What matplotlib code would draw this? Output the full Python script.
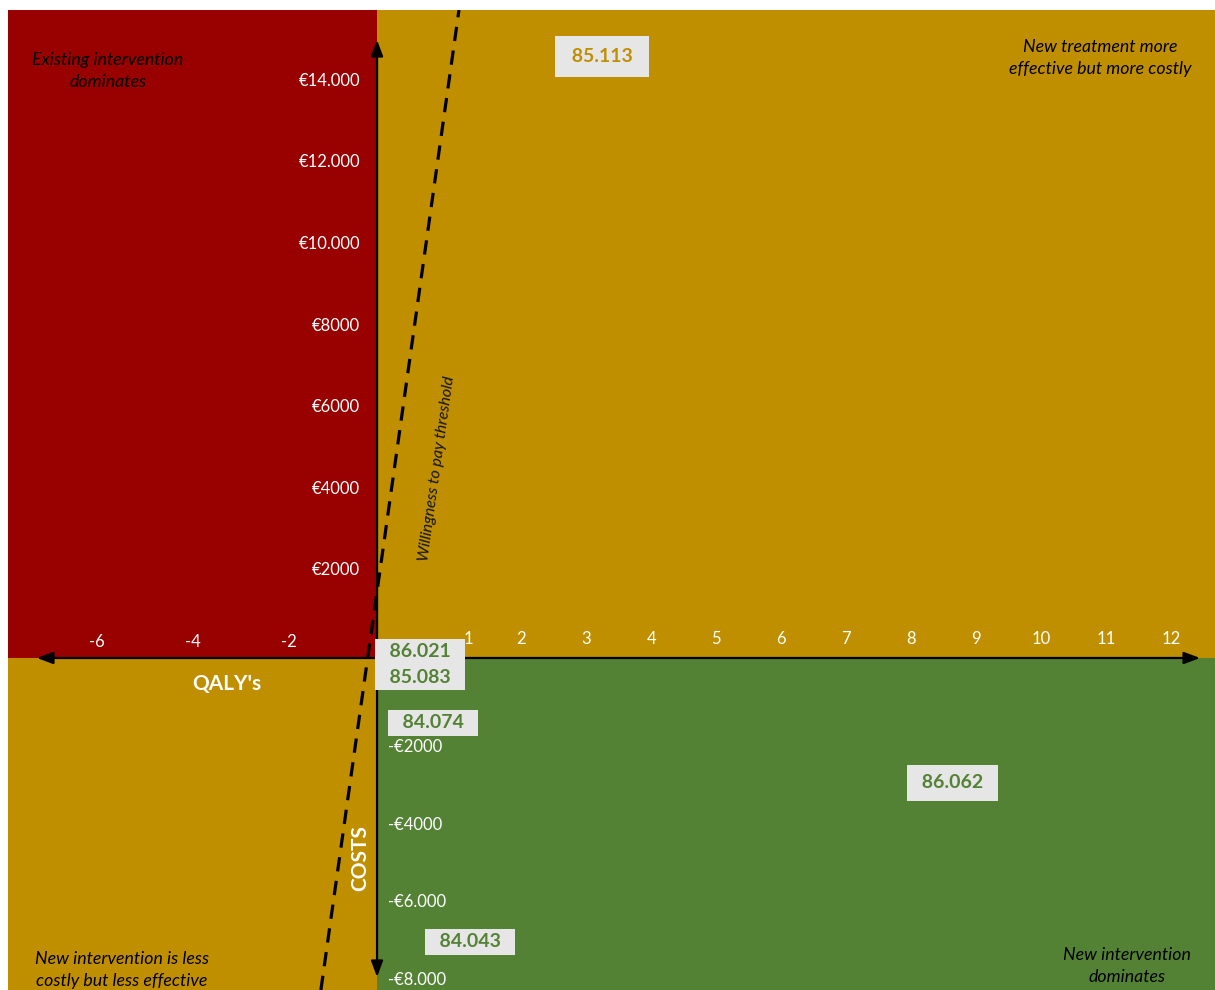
import numpy as np
import matplotlib
matplotlib.use("Agg")
import matplotlib.pyplot as plt
from matplotlib.patches import Rectangle
from matplotlib import transforms

plt.rcParams['font.family'] = ['Lato', 'DejaVu Sans']

# data
point_labels = ['85.113', '86.021', '85.083', '84.074', '86.062', '84.043']
point_qaly = [3.46, 0.66, 0.66, 0.86, 8.85, 1.43]
point_cost = [14750, 150, -490, -1670, -3210, -7300]

xtick_neg = [-6, -4, -2]
xtick_pos = [1, 2, 3, 4, 5, 6, 7, 8, 9, 10, 11, 12]
ytick_pos = [14000, 12000, 10000, 8000, 6000, 4000, 2000]
ytick_pos_lab = ['€14.000', '€12.000', '€10.000', '€8000', '€6000', '€4000', '€2000']
ytick_neg = [-2000, -4000, -6000, -8000]
ytick_neg_lab = ['-€2000', '-€4000', '-€6.000', '-€8.000']

# willingness to pay threshold line
wtp_qaly = [-1.17, 1.26]
wtp_cost = [-8535, 15880]

RED = '#990000'
GOLD = '#BF8F00'
GREEN = '#548235'
BOX = '#E7E6E6'

# the negative halves of both axes are drawn more compressed
NEGX = 48 / 65
NEGY = 38.9 / 40.8


def piecewise(k):
    def fwd(v):
        v = np.asarray(v, dtype=float)
        return np.where(v < 0, v * k, v)

    def inv(v):
        v = np.asarray(v, dtype=float)
        return np.where(v < 0, v / k, v)
    return fwd, inv


fig = plt.figure(figsize=(12.15, 9.9), dpi=100, facecolor='white')
ax = fig.add_axes([8 / 1215, 0, 1207 / 1215, 980 / 990])
ax.set_xscale('function', functions=piecewise(NEGX))
ax.set_yscale('function', functions=piecewise(NEGY))
xmin, xmax = -7.6875, 12.89
ymin, ymax = -8535, 15882
ax.set_xlim(xmin, xmax)
ax.set_ylim(ymin, ymax)
ax.axis('off')

# quadrants
ax.add_patch(Rectangle((xmin, 0), -xmin, ymax, fc=RED, ec='none', zorder=0))
ax.add_patch(Rectangle((0, 0), xmax, ymax, fc=GOLD, ec='none', zorder=0))
ax.add_patch(Rectangle((xmin, ymin), -xmin, -ymin, fc=GOLD, ec='none', zorder=0))
ax.add_patch(Rectangle((0, ymin), xmax, -ymin, fc=GREEN, ec='none', zorder=0))

# axes arrows
arr = dict(arrowstyle='<|-|>,head_length=0.8,head_width=0.3', color='black',
           lw=1.6, mutation_scale=12, shrinkA=0, shrinkB=0)
ax.annotate('', xy=(0.024, 0), xytext=(0.9876, 0),
            xycoords=('axes fraction', 'data'), arrowprops=arr, zorder=3)
ax.annotate('', xy=(0, 0.9694), xytext=(0, 0.0133),
            xycoords=('data', 'axes fraction'), arrowprops=arr, zorder=3)

# threshold
ax.plot(wtp_qaly, wtp_cost, color='black', lw=2.3, dashes=(4.5, 3), zorder=2)
p1 = ax.transData.transform((wtp_qaly[0], wtp_cost[0]))
p2 = ax.transData.transform((wtp_qaly[1], wtp_cost[1]))
ang = np.degrees(np.arctan2(p2[1] - p1[1], p2[0] - p1[0]))
ax.text(0.92, 4650, 'Willingness to pay threshold', rotation=ang,
        rotation_mode='anchor', ha='center', va='center', fontsize=11.5,
        style='italic', color='#141414', zorder=3)

# tick labels
tick_kw = dict(color='white', fontsize=12, zorder=4)
nudge = {1: 12}
up = transforms.offset_copy(ax.transData, fig=fig, x=8, y=16, units='dots')
for v in xtick_neg:
    ax.text(v, 0, str(v), transform=up, ha='center', va='center', **tick_kw)
for v in xtick_pos:
    tr = transforms.offset_copy(ax.transData, fig=fig, x=14 + nudge.get(v, 0),
                                y=19, units='dots')
    ax.text(v, 0, str(v), transform=tr, ha='center', va='center', **tick_kw)
lft = transforms.offset_copy(ax.transData, fig=fig, x=-17, y=6, units='dots')
for v, lab in zip(ytick_pos, ytick_pos_lab):
    ax.text(0, v, lab, transform=lft, ha='right', va='center', **tick_kw)
rgt = transforms.offset_copy(ax.transData, fig=fig, x=11, y=-11, units='dots')
for v, lab in zip(ytick_neg, ytick_neg_lab):
    ax.text(0, v, lab, transform=rgt, ha='left', va='center', **tick_kw)

# axis titles
ax.text(0.1814, 0.3122, "QALY's", transform=ax.transAxes, ha='center',
        va='center', color='white', fontsize=15, fontweight='bold', zorder=4)
ax.text(0.2916, 0.1347, 'COSTS', transform=ax.transAxes, ha='center',
        va='center', color='white', fontsize=15, fontweight='bold',
        rotation=90, zorder=4)

# quadrant descriptions
qkw = dict(transform=ax.transAxes, ha='center', va='center', fontsize=12.8,
           style='italic', color='black', linespacing=1.45, zorder=4)
ax.text(0.0829, 0.9378, 'Existing intervention\ndominates', **qkw)
ax.text(0.9047, 0.9510, 'New treatment more\neffective but more costly', **qkw)
ax.text(0.0944, 0.0204, 'New intervention is less\ncostly but less effective', **qkw)
ax.text(0.9270, 0.0245, 'New intervention\ndominates', **qkw)

# point labels
box_pad = {'85.113': 0.62, '86.062': 0.5}
for lab, q, c in zip(point_labels, point_qaly, point_cost):
    col = GOLD if c > 10000 else GREEN
    pad = box_pad.get(lab, 0.25)
    txt = ' ' + lab + ' ' if lab in box_pad else '  ' + lab + '  '
    ax.text(q, c, txt, ha='center', va='center', color=col, fontsize=14,
            fontweight='bold', zorder=5,
            bbox=dict(boxstyle='square,pad=%s' % pad, fc=BOX, ec='none'))

fig.savefig('out.png', dpi=100, facecolor='white')
